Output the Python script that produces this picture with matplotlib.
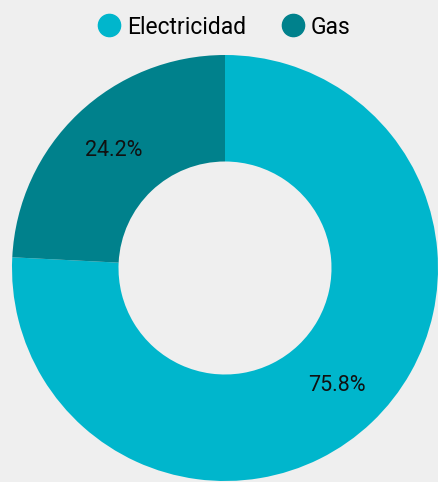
import matplotlib
matplotlib.use("Agg")
import matplotlib.pyplot as plt
from matplotlib.lines import Line2D

labels = ["Electricidad", "Gas"]
values = [75.8, 24.2]
colors = ["#00b6cc", "#00818c"]

plt.rcParams["font.family"] = ["Roboto", "DejaVu Sans"]

W, H = 438, 482
fig = plt.figure(figsize=(W / 100, H / 100), dpi=100, facecolor="#efefef")

# pie centre at (225, 268) px, radius 213 px
cx, cy, r = 225, 268, 213
ax = fig.add_axes([(cx - r) / W, (H - cy - r) / H, 2 * r / W, 2 * r / H])
ax.set_facecolor("#efefef")
wedges, _, autotexts = ax.pie(
    values,
    colors=colors,
    startangle=90,
    counterclock=False,
    radius=1,
    autopct="%.1f%%",
    pctdistance=0.76,
    wedgeprops=dict(width=0.5, edgecolor="none"),
    textprops=dict(fontsize=15.5, color="#111111"),
)
ax.set_xlim(-1, 1)
ax.set_ylim(-1, 1)
ax.set_aspect("equal")
ax.axis("off")

handles = [
    Line2D([], [], marker="o", linestyle="none", markersize=16,
           markerfacecolor=c, markeredgecolor=c)
    for c in colors
]
fig.legend(
    handles, labels, loc="center", bbox_to_anchor=(0.5 + 4 / W, 1 - 27 / H),
    ncol=2, frameon=False, fontsize=16.5, handletextpad=0.2,
    columnspacing=1.42, handlelength=1.2,
)

fig.savefig("out.png", dpi=100, facecolor=fig.get_facecolor())
